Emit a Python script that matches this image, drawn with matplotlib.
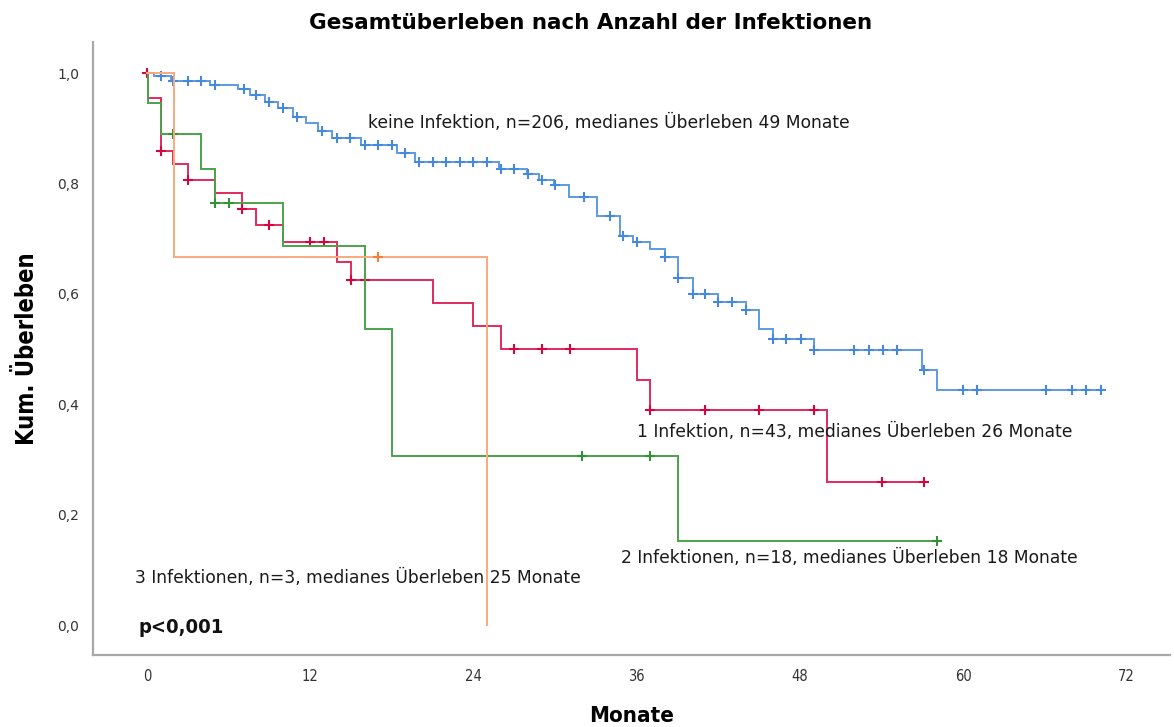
import numpy as np
import matplotlib
matplotlib.use("Agg")
import matplotlib.pyplot as plt

# Kaplan-Meier step points: event times (months) and survival after each event
keine_t = [0.5, 1.8, 4.6, 6.7, 7.6, 8.7, 9.6, 10.7, 11.7, 12.6, 13.6, 15.7, 18.4, 19.7,
           25.9, 27.9, 28.8, 29.9, 31.0, 33.1, 34.8, 35.7, 37.0, 38.1, 39.0, 40.1, 42.0,
           44.0, 45.0, 46.0, 49.0, 57.0, 58.1]
keine_s = [0.995, 0.985, 0.979, 0.972, 0.961, 0.948, 0.937, 0.921, 0.909, 0.895, 0.882,
           0.870, 0.856, 0.839, 0.827, 0.818, 0.807, 0.797, 0.775, 0.741, 0.705, 0.694,
           0.682, 0.667, 0.628, 0.600, 0.586, 0.571, 0.536, 0.518, 0.498, 0.463, 0.426]
keine_cens = [1.0, 1.9, 3.0, 4.0, 5.0, 7.1, 8.0, 9.0, 10.0, 11.0, 12.9, 14.0, 14.9, 16.0,
              17.0, 18.0, 19.0, 20.0, 21.0, 22.0, 23.0, 24.0, 25.0, 26.0, 27.0, 28.0, 29.0,
              30.0, 32.1, 34.0, 35.0, 36.0, 38.1, 39.0, 40.1, 41.0, 42.0, 43.0, 44.0, 46.0,
              47.0, 48.1, 49.0, 52.0, 53.1, 54.1, 55.1, 57.1, 60.0, 61.0, 66.1, 68.0, 69.0,
              70.1]
keine_end = 70.3

eins_t = [0.05, 1.0, 1.9, 3.0, 5.0, 7.0, 8.0, 10.0, 14.0, 15.0, 21.0, 24.0, 26.0, 36.0,
          37.0, 50.0]
eins_s = [0.955, 0.859, 0.835, 0.807, 0.782, 0.754, 0.725, 0.694, 0.658, 0.625, 0.584,
          0.542, 0.500, 0.444, 0.389, 0.260]
eins_cens = [0.0, 1.0, 3.0, 7.0, 9.0, 12.0, 13.0, 15.0, 16.0, 27.0, 29.0, 31.1, 37.0,
             41.0, 45.0, 49.0, 54.0, 57.1]
eins_end = 57.3

zwei_t = [0.05, 1.0, 4.0, 5.0, 10.0, 16.0, 18.0, 39.0]
zwei_s = [0.945, 0.889, 0.826, 0.765, 0.687, 0.536, 0.306, 0.153]
zwei_cens = [1.9, 5.0, 6.0, 32.0, 37.0, 58.1]
zwei_end = 58.1

drei_t = [2.0, 25.0]
drei_s = [0.667, 0.0]
drei_cens = [17.0]
drei_end = 25.0

groups = [
    (keine_t, keine_s, keine_cens, keine_end, "#5e9be2", "#4688dc"),
    (eins_t, eins_s, eins_cens, eins_end, "#e02a5c", "#d4053f"),
    (zwei_t, zwei_s, zwei_cens, zwei_end, "#4ba24b", "#33913a"),
    (drei_t, drei_s, drei_cens, drei_end, "#f9a97e", "#f5803c"),
]

labels = [
    (16.25, 0.909, "keine Infektion, n=206, medianes Überleben 49 Monate"),
    (36.0, 0.350, "1 Infektion, n=43, medianes Überleben 26 Monate"),
    (34.85, 0.121, "2 Infektionen, n=18, medianes Überleben 18 Monate"),
    (-0.9, 0.085, "3 Infektionen, n=3, medianes Überleben 25 Monate"),
]

x_ticks = [0, 12, 24, 36, 48, 60, 72]
y_ticks = [0.0, 0.2, 0.4, 0.6, 0.8, 1.0]
y_ticklabels = ["0,0", "0,2", "0,4", "0,6", "0,8", "1,0"]

fig = plt.figure(figsize=(11.74, 7.27), dpi=100)
ax = fig.add_axes([0.0792, 0.099, 0.9174, 0.843])

for t, s, cens, end, col, ccol in groups:
    tt = np.concatenate([[0.0], t, [end]])
    ss = np.concatenate([[1.0], s, [s[-1]]])
    ax.step(tt, ss, where="post", color=col, lw=1.4, solid_joinstyle="miter")
    c = np.asarray(cens)
    idx = np.searchsorted(np.asarray(t), c, side="right")
    sv = np.concatenate([[1.0], s])[idx]
    ax.plot(c, sv, linestyle="none", marker="|", markersize=7.5, mew=1.5, color=ccol)
    ax.plot(c, sv, linestyle="none", marker="_", markersize=7.5, mew=1.5, color=ccol)

for x, y, txt in labels:
    ax.text(x, y, txt, ha="left", va="center", fontsize=12.3, family="DejaVu Sans",
            color="#1a1a1a")
ax.text(-0.66, -0.005, "p<0,001", ha="left", va="center", fontsize=14.5,
        fontweight="bold", family="DejaVu Sans", fontstretch="condensed", color="#111111")

ax.set_xlim(-3.97, 75.2)
ax.set_ylim(-0.054, 1.056)
ax.set_xticks(x_ticks)
ax.set_xticklabels([str(v) for v in x_ticks], family="DejaVu Sans",
                   fontstretch="condensed", fontsize=10.5)
ax.set_yticks(y_ticks)
ax.set_yticklabels(y_ticklabels, family="DejaVu Sans", fontsize=10)
ax.tick_params(length=0, pad=10, colors="#333333")
for side in ("top", "right"):
    ax.spines[side].set_visible(False)
for side in ("left", "bottom"):
    ax.spines[side].set_color("#a8a8a8")
    ax.spines[side].set_linewidth(1.6)

ax.set_xlabel("Monate", family="DejaVu Sans", fontstretch="condensed", fontweight="bold",
              fontsize=16, labelpad=16)
ax.set_ylabel("Kum. Überleben", family="DejaVu Sans", fontstretch="condensed",
              fontweight="bold", fontsize=17, labelpad=13)
fig.text(0.503, 0.969, "Gesamtüberleben nach Anzahl der Infektionen", ha="center",
         va="center", fontsize=15.5, fontweight="bold", family="DejaVu Sans")

fig.savefig("out.png", dpi=100)
